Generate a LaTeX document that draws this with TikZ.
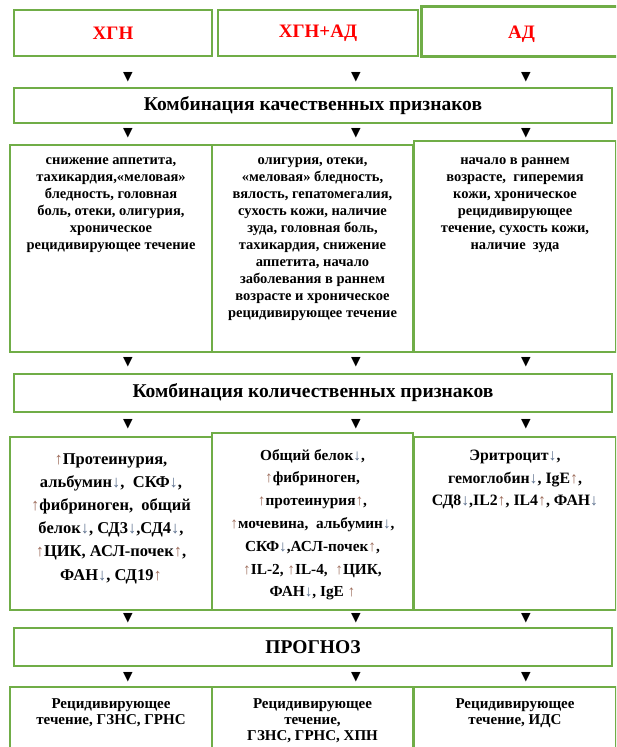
\documentclass[tikz,border=0pt]{standalone}
\usepackage{fontspec}
\setmainfont{Liberation Serif}
\newfontfamily\symfont{DejaVu Sans}
\usetikzlibrary{positioning}

\definecolor{boxgreen}{HTML}{70AD47}
\definecolor{uptone}{HTML}{9C6B5A}
\definecolor{dntone}{HTML}{5A6E8C}
\newcommand\up{{\color{uptone}↑}}
\newcommand\dn{{\color{dntone}↓}}

\begin{document}
\begin{tikzpicture}[
    x = 1pt, y = -1pt,
    box/.style = {draw=boxgreen, line width=2pt, inner sep=0pt},
    head lbl/.style = {font=\bfseries\fontsize{19.5}{22}\selectfont},
    top lbl/.style = {font=\bfseries\fontsize{19}{22}\selectfont, text=red},
    qual txt/.style = {align=center, inner sep=0pt, font=\bfseries\fontsize{14.5}{17}\selectfont},
    quant txt/.style = {align=center, inner sep=0pt, font=\bfseries\fontsize{16.5}{23.2}\selectfont},
    end txt/.style = {align=center, inner sep=0pt, font=\bfseries\fontsize{15}{16}\selectfont},
    tri/.style = {inner sep=0pt, font=\symfont\fontsize{12.5}{12.5}\selectfont}
]
\useasboundingbox (0,0) rectangle (616,747);
\clip (0,0) rectangle (616,747);

% groups
\node[box, minimum width=198pt, minimum height=46pt] (g1) at (113,33) {};
\node[box, minimum width=200pt, minimum height=46pt] (g2) at (318,33) {};
\node[box, line width=3pt, minimum width=201pt, minimum height=50pt] (g3) at (521.5,31) {};
\node[top lbl] (t1) at (g1) {ХГН};
\node[top lbl] (t2) at (g2) {ХГН+АД};
\node[top lbl] (t3) at ([yshift=-3pt]g3) {АД};

% headings
\node[box, minimum width=598pt, minimum height=35pt] (qual) at (313,105.5) {};
\node[head lbl] at (qual) {Комбинация качественных признаков};
\node[box, minimum width=598pt, minimum height=38pt] (quant) at (313,393) {};
\node[head lbl] at (quant) {Комбинация количественных признаков};
\node[box, minimum width=598pt, minimum height=38pt] (prog) at (313,647) {};
\node[head lbl] at (prog) {ПРОГНОЗ};

% qualitative signs
\node[box, minimum width=202pt, minimum height=207pt] (q1) at (111,248.5) {};
\node[box, minimum width=201pt, minimum height=207pt] (q2) at (312.5,248.5) {};
\node[box, minimum width=202pt, minimum height=211pt] (q3) at (515,246.5) {};
\node[qual txt, below=13pt of q1.north] {снижение аппетита, \\ тахикардия,«меловая» \\ бледность, головная \\
    боль, отеки, олигурия, \\ хроническое \\ рецидивирующее течение};
\node[qual txt, below=13pt of q2.north] {олигурия, отеки, \\ «меловая» бледность, \\ вялость, гепатомегалия, \\
    сухость кожи, наличие \\ зуда, головная боль, \\ тахикардия, снижение \\ аппетита, начало \\
    заболевания в раннем \\ возрасте и хроническое \\ рецидивирующее течение};
\node[qual txt, below=17pt of q3.north] {начало в раннем \\ возрасте,~ гиперемия \\ кожи, хроническое \\
    рецидивирующее \\ течение, сухость кожи, \\ наличие~ зуда};

% quantitative signs
\node[box, minimum width=202pt, minimum height=173pt] (k1) at (111,523.5) {};
\node[box, minimum width=201pt, minimum height=177pt] (k2) at (312.5,521.5) {};
\node[box, minimum width=202pt, minimum height=173pt] (k3) at (515,523.5) {};
\node[quant txt, below=17pt of k1.north] {\up Протеинурия, \\ альбумин\dn,~ СКФ\dn, \\ \up фибриноген,~ общий \\
    белок\dn, СД3\dn,СД4\dn, \\ \up ЦИК, АСЛ-почек\up, \\ ФАН\dn, СД19\up};
\node[quant txt, font=\bfseries\fontsize{15.3}{22.8}\selectfont, below=17pt of k2.north] {Общий белок\dn, \\ \up фибриноген, \\
    \up протеинурия\up, \\ \up мочевина,~ альбумин\dn, \\ СКФ\dn,АСЛ-почек\up, \\
    \up IL-2, \up IL-4,~ \up ЦИК, \\ ФАН\dn, IgE \up};
\node[quant txt, font=\bfseries\fontsize{15.8}{22.5}\selectfont, below=14pt of k3.north] {Эритроцит\dn, \\
    гемоглобин\dn, IgE\up, \\ СД8\dn,IL2\up, IL4\up, ФАН\dn};

% outcome
\node[box, minimum width=202pt, minimum height=83pt] (p1) at (111,728.5) {};
\node[box, minimum width=201pt, minimum height=83pt] (p2) at (312.5,728.5) {};
\node[box, minimum width=202pt, minimum height=83pt] (p3) at (515,728.5) {};
\node[end txt, below=12pt of p1.north] {Рецидивирующее \\ течение, ГЗНС, ГРНС};
\node[end txt, below=12pt of p2.north] {Рецидивирующее \\ течение, \\ ГЗНС, ГРНС, ХПН};
\node[end txt, below=12pt of p3.north] {Рецидивирующее \\ течение, ИДС};

% markers between levels
\foreach \y/\r in {77/a,133/b,362/c,424/d,618/e,677/f}
  \foreach \x/\c in {128/1,356/2,526/3}
    \node[tri] (\r\c) at (\x,\y) {▼};

\end{tikzpicture}
\end{document}
